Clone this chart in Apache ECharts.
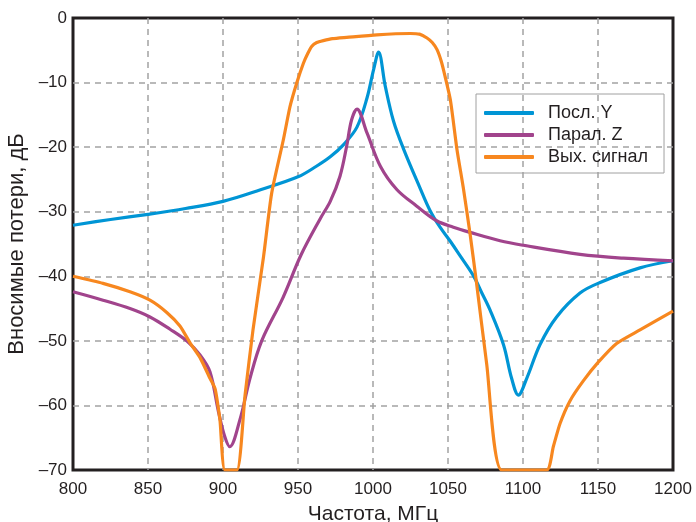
<!DOCTYPE html>
<html>
<head>
<meta charset="utf-8">
<script src="https://cdn.jsdelivr.net/npm/echarts@6/dist/echarts.min.js"></script>
<style>
  html, body { margin: 0; padding: 0; background: #fff; }
  #chart { width: 696px; height: 522px; }
</style>
</head>
<body>
<div id="chart"></div>
<script>
// Посл. Y
const freqY = [800, 825, 850, 875, 900, 925, 950, 962, 971.5, 980.4, 989.3, 996, 1000.4, 1003.7, 1008.2, 1013.7, 1020.4, 1031.3, 1038, 1044.7, 1051.3, 1058, 1066.9, 1072.4, 1078, 1087, 1092.4, 1096.9, 1102.5, 1111.3, 1122.4, 1138, 1151, 1178, 1200]
const lossY = [-32.1, -31.2, -30.4, -29.5, -28.4, -26.6, -24.6, -23, -21.5, -19.6, -16.9, -12.4, -8, -5.3, -10.6, -16, -20.3, -26.3, -29.8, -32.4, -34.5, -36.8, -39.9, -42.5, -45.2, -50.6, -55.8, -58.4, -55.8, -50.6, -46.3, -42.6, -41, -38.7, -37.6]
// Парал. Z
const freqZ = [800, 820, 838, 851.3, 864.7, 875.8, 884.7, 891.3, 897, 901, 904.5, 911.3, 918, 925.8, 940, 952, 965, 971.5, 978, 982.4, 985.7, 989.3, 996, 1005, 1016, 1029, 1042.4, 1053.6, 1064.7, 1084.7, 1100.2, 1138, 1167, 1200]
const lossZ = [-42.4, -43.7, -45, -46.3, -48.2, -50, -52.2, -54.8, -61, -64.7, -66.4, -62.2, -55.8, -50, -43.3, -36.7, -31, -28.4, -24.5, -19.9, -15.8, -14.1, -17.8, -23, -26.6, -29.1, -31.4, -32.4, -33.2, -34.5, -35.2, -36.6, -37.2, -37.6]
// Вых. сигнал
const freqOut = [800, 820, 838, 851.3, 862.5, 871.3, 878, 884.7, 891.3, 894.7, 896.5, 898, 901.3, 909.3, 914.7, 920, 927, 932.4, 940.2, 944.7, 949.1, 953.6, 956.5, 959.1, 962.5, 966.9, 973, 982.5, 1002.5, 1025, 1031, 1036, 1039.5, 1042.7, 1045.5, 1048, 1051.6, 1056, 1060.2, 1064.7, 1069, 1075.8, 1085.8, 1115.8, 1120.2, 1124.7, 1131.3, 1140.2, 1150.2, 1162.4, 1178, 1200]
const lossOut = [-40, -41.1, -42.4, -43.7, -45.6, -47.7, -50.3, -52.6, -55.8, -57.4, -59.8, -62.3, -70, -70, -58.4, -48.3, -37, -27.2, -18.9, -13.7, -10.1, -7, -5.5, -4.4, -3.8, -3.5, -3.2, -3, -2.6, -2.4, -2.5, -3.1, -3.8, -4.9, -6.7, -9, -12.7, -20.4, -26.3, -33.4, -41, -53.6, -70, -70, -66.4, -62.8, -59.3, -56.2, -53.3, -50.4, -48.3, -45.4]

const names = ['Посл. Y', 'Парал. Z', 'Вых. сигнал']
const colors = ['#0095d5', '#a1448c', '#f7871f']

const zip = (xs, ys) => xs.map((x, i) => [x, ys[i]])
const font = '"Liberation Sans", Arial, sans-serif'
const gridLine = {
  show: true, showMinLine: false, showMaxLine: false,
  lineStyle: { color: '#a3a3a3', width: 1.5, type: [6, 5] }
}

const chart = echarts.init(document.getElementById('chart'))
const mkSeries = (i, data, smooth) => ({
  name: names[i],
  type: 'line',
  data: data,
  symbol: 'none',
  smooth: smooth,
  clip: true,
  lineStyle: { color: colors[i], width: 3.2, join: 'round' },
  itemStyle: { color: colors[i] },
  z: 3 + i
})

chart.setOption({
  animation: false,
  textStyle: { fontFamily: font },
  grid: {
    left: 73, right: 23, top: 18, bottom: 52,
    outerBoundsMode: 'none',
    containLabel: false,
    show: true, borderColor: '#231f20', borderWidth: 3, backgroundColor: 'transparent'
  },
  legend: {
    orient: 'vertical',
    left: 476, top: 94,
    padding: [10, 16, 7, 8],
    itemGap: 4,
    icon: 'roundRect',
    itemWidth: 50, itemHeight: 4,
    borderColor: '#a0a0a0', borderWidth: 1,
    textStyle: { fontSize: 18, color: '#231f20', fontFamily: font, padding: [0, 0, 0, 9], lineHeight: 18 },
    data: names
  },
  xAxis: {
    type: 'value',
    min: 800, max: 1200, interval: 50,
    name: 'Частота, МГц',
    nameLocation: 'middle',
    nameGap: 34,
    nameTextStyle: { fontSize: 21, color: '#231f20', fontFamily: font },
    axisLine: { show: false },
    axisTick: { show: false },
    axisLabel: { fontSize: 17, color: '#231f20', margin: 11, fontFamily: font, formatter: v => String(v) },
    splitLine: gridLine
  },
  yAxis: {
    type: 'value',
    min: -70, max: 0, interval: 10,
    name: 'Вносимые потери, дБ',
    nameLocation: 'middle',
    nameGap: 39,
    nameTextStyle: { fontSize: 22, color: '#231f20', fontFamily: font },
    axisLine: { show: false },
    axisTick: { show: false },
    axisLabel: {
      fontSize: 17, color: '#231f20', margin: 6, fontFamily: font,
      formatter: v => String(v).replace('-', '–')
    },
    splitLine: gridLine
  },
  series: [
    mkSeries(0, zip(freqY, lossY), 0.35),
    mkSeries(1, zip(freqZ, lossZ), 0.35),
    mkSeries(2, zip(freqOut, lossOut), 0.2)
  ]
})
</script>
</body>
</html>
